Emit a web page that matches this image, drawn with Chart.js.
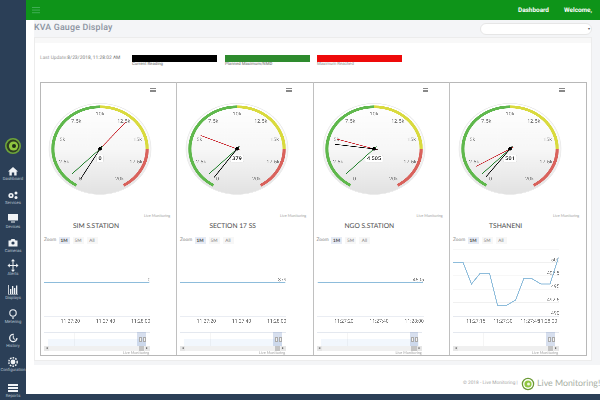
<!DOCTYPE html>
<html><head><meta charset="utf-8">
<script src="https://cdn.jsdelivr.net/npm/chart.js@4"></script>
<style>
html,body{margin:0;padding:0;width:600px;height:400px;overflow:hidden;background:#fff;font-family:Roboto,"Open Sans",sans-serif}
#root{position:absolute;left:0;top:0;width:600px;height:400px;overflow:hidden;background:#fff;filter:blur(.35px);text-rendering:geometricPrecision}
.a{position:absolute}
.t{position:absolute;white-space:nowrap}
.navt{position:absolute;left:0;width:26px;text-align:center;color:#b9c4d0;font-size:4.2px;line-height:5px}
.zb{position:absolute;top:237px;height:7px;width:11px;line-height:7px;text-align:center;font-size:4.6px;color:#777;font-family:Lato,sans-serif}
canvas{position:absolute;display:block}
.bar{position:absolute;background:#888;height:.8px;width:5.6px}
</style></head><body><div id="root">
<div class="a" style="left:26px;top:20px;width:574px;height:345px;background:#f4f5f7"></div>
<div class="a" style="left:26px;top:20px;width:8px;height:345px;background:#fff"></div>
<div class="a" style="left:34px;top:37px;width:558px;height:324px;background:#fff;border:1px solid #ececec;box-sizing:border-box"></div>
<div class="a" style="left:35px;top:38px;width:556px;height:5px;background:#f8f8f8"></div>
<div class="a" style="left:0;top:0;width:600px;height:20px;background:#0e9419"></div>
<div class="a" style="left:0;top:0;width:26px;height:400px;background:#2b3f57"></div>
<div class="a" style="left:0;top:394px;width:600px;height:6px;background:#2b3f57"></div>
<div class="a" style="left:32px;top:7px;width:8px;height:1.2px;background:#3fae55;box-shadow:0 2.6px #3fae55,0 5.2px #3fae55"></div>
<div class="t" style="left:518px;top:5px;font-size:6.4px;line-height:10px;font-weight:700;color:#fff;">Dashboard</div>
<div class="t" style="left:564px;top:5px;font-size:6.4px;line-height:10px;font-weight:700;color:#fff;">Welcome,</div>
<div class="t" style="left:34px;top:22px;font-size:8.800px;line-height:12px;font-weight:500;color:#8b93a0;letter-spacing:.2px">KVA Gauge Display</div>
<div class="a" style="left:480px;top:23px;width:112px;height:12px;background:#fff;border:1px solid #e6e6e6;border-radius:6px;box-sizing:border-box"></div>
<div class="t" style="left:588px;top:27px;font-size:4px;line-height:4px;color:#555">▾</div>
<div class="t" style="left:40px;top:55px;font-size:4.900px;line-height:6px;color:#999">Last Update:<span style="color:#777">8/23/2018, 11:28:02 AM</span></div>
<div class="a" style="left:132px;top:55px;width:85px;height:6.5px;background:#000"></div>
<div class="a" style="left:225px;top:55px;width:84.5px;height:6.5px;background:#2e8b2e"></div>
<div class="a" style="left:317px;top:55px;width:84.5px;height:6.5px;background:#ee0a0a"></div>
<div class="t" style="left:132px;top:62px;font-size:4.300px;line-height:5px;font-weight:500;color:#888">Current Reading</div>
<div class="t" style="left:225px;top:62px;font-size:4.300px;line-height:5px;font-weight:500;color:#888">Planned Maximum/NMD</div>
<div class="t" style="left:317px;top:62px;font-size:4.300px;line-height:5px;color:#888">Maximum Reached</div>
<div class="a" style="left:39.5px;top:82px;width:547px;height:273.5px;border:1px solid #b8b8b8;box-sizing:border-box"></div>
<div class="a" style="left:176px;top:82px;width:1px;height:273px;background:#c0c0c0"></div>
<div class="a" style="left:312.5px;top:82px;width:1px;height:273px;background:#c0c0c0"></div>
<div class="a" style="left:449px;top:82px;width:1px;height:273px;background:#c0c0c0"></div>

<svg class="a" style="left:0;top:130px" width="26" height="265" viewBox="0 0 26 265">
 <circle cx="13" cy="16" r="7.2" fill="#2e3d22" stroke="#6ea53a" stroke-width="1.6"/>
 <circle cx="13.5" cy="16" r="4.6" fill="#8fc63f"/><circle cx="14" cy="16" r="2" fill="#1d2c18"/>
 <g fill="#f0f3f6">
  <path d="M13 37l5 4.5h-1.4v4h-2.4v-3h-2.4v3h-2.4v-4H8z"/>
  <circle cx="11" cy="65.5" r="2.6"/><circle cx="16" cy="63" r="1.5"/><circle cx="16" cy="67.5" r="1.5"/>
  <path d="M8 84h10v6.5H8zM11 91.5h4v1h-4z"/>
  <path d="M8.500 110.500h2l1-1.500h3l1 1.500h2v6h-9z"/>
  <path d="M12.500 131h1v9h-1zM9 135h8v1H9z"/><path d="M13 129l2 2.300h-4zM13 142l2-2.300h-4zM7.500 135.500l2.300-2v4zM18.500 135.500l-2.300-2v4z"/>
  <path d="M8 155h.8v9H8zM10 159h1.300v5H10zM12 156h1.300v8H12zM14 158h1.300v6H14zM16 155.500h1.300v8.500H16zM8 164h10v.6H8z"/>
  <path d="M12.400 187h1.200v2h-1.200z"/>
  <circle cx="13" cy="232" r="2.400"/>
  <path d="M8 254h10v2H8zM8 257h10v2H8zM8 260h10v2H8z"/>
 </g>
 <circle cx="13" cy="183" r="3.200" fill="none" stroke="#f0f3f6" stroke-width="1.100"/>
 <circle cx="13.300" cy="208" r="3.600" fill="none" stroke="#f0f3f6" stroke-width="1.300" stroke-dasharray="17 6"/>
 <path d="M13.300 205.500v3l2 1" fill="none" stroke="#f0f3f6" stroke-width="1"/>
 <circle cx="13" cy="232" r="4.200" fill="none" stroke="#f0f3f6" stroke-width="1.500" stroke-dasharray="1.600 1.100"/>
 <circle cx="11" cy="65.500" r="1" fill="#2b3f57"/>
 <circle cx="13" cy="113" r="1.600" fill="#2b3f57"/>
</svg>
<div class="navt" style="top:177px">Dashboard</div>
<div class="navt" style="top:200.500px">Services</div>
<div class="navt" style="top:224.500px">Devices</div>
<div class="navt" style="top:248.500px">Cameras</div>
<div class="navt" style="top:272px">Alerts</div>
<div class="navt" style="top:296px">Displays</div>
<div class="navt" style="top:319.500px">Metering</div>
<div class="navt" style="top:343.500px">History</div>
<div class="navt" style="top:367.500px">Configuration</div>
<div class="navt" style="top:394px">Reports</div>

<div class="t" style="left:463px;top:381px;font-size:4.800px;line-height:6px;color:#a5a5a5">© 2018 - Live Monitoring |</div>
<svg class="a" style="left:521px;top:377px" width="14" height="14"><circle cx="7" cy="7" r="5.600" fill="#fff" stroke="#6b9a35" stroke-width="1.300"/><circle cx="7" cy="7" r="3.600" fill="#8fc63f"/><circle cx="7.500" cy="7" r="1.500" fill="#eef5e0"/></svg>
<div class="t" style="left:537px;top:377px;font-size:8.800px;line-height:12px;color:#a9b0a5;font-family:Lato,sans-serif">Live Monitoring!</div>
<div id="panels"></div>
</div>
<script>
const stationNames = ['SIM S.STATION', 'SECTION 17 SS', 'NGO S.STATION', 'TSHANENI'];
const currentReadings = [0, 379, 4505, 501];
const plannedMaximum = [1000, 1000, 1000, 1000];
const maximumReached = [12700, 5500, 5100, 2000];
const bandValues = [10000, 6000, 4000];
const bandColors = ['#5fb84c', '#d9da3e', '#d9625c'];
const gaugeTickSteps = [2500, 2500, 2500, 2500, 2500, 2500, 2500, 2500];
const gaugeTickLabels = ['0', '2.5k', '5k', '7.5k', '10k', '12.5k', '15k', '17.5k', '20k'];
const needleColors = ['#000000', '#1b7d27', '#c8222a'];

// seconds after 11:27:00
const flatTimes = [5, 10, 15, 20, 25, 30, 35, 40, 45, 50, 55, 60, 65];
const simValues = [0, 0, 0, 0, 0, 0, 0, 0, 0, 0, 0, 0, 0];
const section17Values = [379, 379, 379, 379, 379, 379, 379, 379, 379, 379, 379, 379, 379];
const ngoValues = [4505, 4505, 4505, 4505, 4505, 4505, 4505, 4505, 4505, 4505, 4505, 4505, 4505];
const tshaneniTimes = [2.4, 8, 12.6, 17.4, 22.6, 27, 32, 37, 41.5, 46, 51, 56, 60.7];
const tshaneniValues = [500, 500, 496, 498, 498, 492, 492, 493, 497, 497, 496, 496, 501];
const flatTickSeconds = [20, 40, 60];
const tshaneniTickSeconds = [15, 30, 45, 60];
const tshaneniYTicks = [490, 492.5, 495, 497.5, 500, 502.5];

// navigator: minutes after 11:00
const navTimes = [10.25, 14, 18, 22, 26, 28.08];
const navTickMinutes = [15];
const navSim = [0, 0, 0, 0, 0, 0];
const navSection17 = [379, 379, 379, 379, 379, 379];
const navNgo = [4505, 4505, 4505, 4505, 4505, 4505];

const lineSets = [
  {times: flatTimes, values: simValues, nav: navSim},
  {times: flatTimes, values: section17Values, nav: navSection17},
  {times: flatTimes, values: ngoValues, nav: navNgo},
  {times: tshaneniTimes, values: tshaneniValues, nav: []}
];

const panelX = [40, 176, 312.5, 449];
const gaugeCx = [100.3, 237.3, 374, 510.3];
const titleCx = [96, 232.7, 369.3, 505.7];
const plotL = [4, 4, 4.5, 4];

const fmtClock2 = s => s >= 60 ? '11:28:' + String(s - 60).padStart(2, '0') : '11:27:' + String(s).padStart(2, '0');
const fmtValue = v => v >= 1000 ? String(v).replace(/(\d)(\d{3})$/, '$1 $2') : String(v);

Chart.register({id: 'crispText', beforeDraw(chart) { chart.ctx.textRendering = 'geometricPrecision'; }});

const gaugePlugin = {
  id: 'gaugeFace',
  beforeDatasetsDraw(chart) {
    const arc = chart.getDatasetMeta(0).data[0], c = chart.ctx, R = arc.outerRadius + 2;
    c.save();
    const g = c.createLinearGradient(0, arc.y - R, 0, arc.y + R);
    g.addColorStop(0, '#ffffff'); g.addColorStop(.5, '#f7f7f7'); g.addColorStop(1, '#e2e2e2');
    c.fillStyle = g; c.strokeStyle = '#ececec'; c.lineWidth = .8;
    c.beginPath(); c.arc(arc.x, arc.y, R, 0, Math.PI * 2); c.fill(); c.stroke();
    c.restore();
  },
  afterDatasetsDraw(chart, _a, opts) {
    const meta0 = chart.getDatasetMeta(0).data[0], c = chart.ctx, cx = meta0.x, cy = meta0.y, R = meta0.outerRadius;
    const tickArcs = chart.getDatasetMeta(1).data;
    c.save();
    c.textRendering = 'geometricPrecision';
    c.font = '4.8px Roboto, sans-serif'; c.fillStyle = '#777'; c.textAlign = 'center'; c.textBaseline = 'middle';
    gaugeTickLabels.forEach((lab, i) => {
      const a = i < tickArcs.length ? tickArcs[i].startAngle : tickArcs[i - 1].endAngle;
      c.fillText(lab, cx + Math.cos(a) * R * .8, cy + Math.sin(a) * R * .8);
    });
    const txt = fmtValue(opts.value);
    c.font = 'bold 5px Roboto, sans-serif';
    const w = c.measureText(txt).width + 3.5, by = cy + 9.7;
    c.fillStyle = '#fff'; c.strokeStyle = '#ddd'; c.lineWidth = .4;
    c.beginPath(); c.roundRect(cx - w / 2, by - 3.6, w, 7.2, 1.5); c.fill(); c.stroke();
    c.fillStyle = '#444'; c.fillText(txt, cx, by + .2);
    c.lineCap = 'round';
    [4, 3, 2].forEach(ds => {
      const a = chart.getDatasetMeta(ds).data[0].endAngle;
      c.strokeStyle = needleColors[ds - 2]; c.lineWidth = .7;
      c.beginPath();
      c.moveTo(cx - Math.cos(a) * 3, cy - Math.sin(a) * 3);
      c.lineTo(cx + Math.cos(a) * R * .8, cy + Math.sin(a) * R * .8);
      c.stroke();
    });
    c.fillStyle = '#000'; c.beginPath(); c.arc(cx, cy, 1.7, 0, Math.PI * 2); c.fill();
    c.restore();
  }
};

const panels = document.getElementById('panels');
function el(css, cls, txt) { const d = document.createElement('div'); d.style.cssText = css; d.className = cls || 'a'; if (txt) d.textContent = txt; panels.appendChild(d); return d; }
function canvas(l, t, w, h, extra) { const c = document.createElement('canvas'); c.width = w; c.height = h; c.style.cssText = `left:${l}px;top:${t}px;${extra || ''}`; panels.appendChild(c); return c; }

const base = {responsive: false, animation: false, events: [], devicePixelRatio: 3};

stationNames.forEach((name, i) => {
  const px = panelX[i];
  [88.3, 90, 91.7].forEach(y => { el(`left:${px + 110}px;top:${y - .4}px`, 'bar'); });
  const gc = canvas(gaugeCx[i] - 55, 91.4, 110, 110, 'transform:scaleX(1.12);transform-origin:50% 50%');
  new Chart(gc, {
    type: 'doughnut',
    plugins: [gaugePlugin],
    data: {datasets: [
      {data: bandValues, backgroundColor: bandColors, borderWidth: 0},
      {data: gaugeTickSteps, backgroundColor: 'transparent', borderWidth: 0, weight: 0},
      {data: [currentReadings[i], 20000 - currentReadings[i]], backgroundColor: 'transparent', borderWidth: 0, weight: 0},
      {data: [plannedMaximum[i], 20000 - plannedMaximum[i]], backgroundColor: 'transparent', borderWidth: 0, weight: 0},
      {data: [maximumReached[i], 20000 - maximumReached[i]], backgroundColor: 'transparent', borderWidth: 0, weight: 0}
    ]},
    options: {...base, rotation: -150, circumference: 300, radius: 43.5, cutout: '93.5%',
      layout: {padding: 0},
      plugins: {legend: {display: false}, tooltip: {enabled: false}, gaugeFace: {value: currentReadings[i]}}}
  });
  el(`left:${px + 104}px;top:212.500px;font-size:3.800px;line-height:5px;color:#a0a0a0;font-family:Lato,sans-serif`, 't', 'Live Monitoring');
  el(`left:${titleCx[i] - 40}px;width:80px;text-align:center;top:221.500px;font-size:6.700px;line-height:9px;color:#4a4a4a;font-family:Lato,sans-serif`, 't', name);
  el(`left:${px + 4}px;top:237px;font-size:4.800px;line-height:7px;color:#888;font-family:Lato,sans-serif`, 't', 'Zoom');
  el(`left:${px + 18.500}px;background:#e6ebf5;font-weight:700;color:#444`, 'zb', '1M');
  el(`left:${px + 32.500}px;background:#f7f7f7`, 'zb', '5M');
  el(`left:${px + 46.500}px;background:#f7f7f7`, 'zb', 'All');

  const set = lineSets[i], flat = i < 3, v0 = set.values[0];
  const lc = canvas(px, 245, 136, 88);
  const L = plotL[i];
  new Chart(lc, {
    type: 'line',
    data: {datasets: [{data: set.times.map((t, k) => ({x: t, y: set.values[k]})), borderColor: '#8dbcdb', borderWidth: 1, pointRadius: 0, tension: 0, fill: false}]},
    options: {...base, layout: {padding: {left: L, right: 136 - L - 105.500, top: 4.300, bottom: 5}},
      plugins: {legend: {display: false}, tooltip: {enabled: false}},
      scales: {
        x: {type: 'linear', min: flat ? 5 : 2.4, max: flat ? 65 : 60.7,
          afterBuildTicks: s => { const v = flat ? flatTickSeconds : tshaneniTickSeconds; s.ticks = (flat ? v : [s.min].concat(v)).map(value => ({value})); },
          afterFit: s => { s.height = 12; },
          grid: {display: false, drawTicks: false}, border: {color: '#d5dce8', width: .7},
          ticks: {autoSkip: false, maxRotation: 0, padding: 2.500, align: flat ? 'center' : 'inner', color: '#7a7a7a', font: {size: 5, family: 'Roboto'},
            callback: v => (v === 2.4 ? '' : fmtClock2(v))}},
        y: {type: 'linear', position: 'right', min: flat ? v0 - 1 : 490, max: flat ? v0 + 1 : 502.5,
          afterBuildTicks: s => { s.ticks = (flat ? [v0] : tshaneniYTicks).map(value => ({value})); },
          afterFit: s => { s.width = 0; },
          grid: {color: flat ? 'transparent' : '#f0f0f0', lineWidth: .6, drawTicks: false}, border: {display: false},
          ticks: {mirror: true, padding: 1, labelOffset: -2.500, color: '#7a7a7a', font: {size: 5, family: 'Roboto'},
            callback: v => (v === 502.5 ? '' : String(v))}}
      }}
  });

  const nc = canvas(px, 331, 136, 15);
  const nav = set.nav, nv = nav.length ? nav[0] : 0;
  new Chart(nc, {
    type: 'line',
    data: {datasets: [{data: nav.map((v, k) => ({x: navTimes[k], y: v})), borderColor: '#b5d2e8', backgroundColor: 'rgba(124,181,236,.10)', borderWidth: .7, pointRadius: 0, fill: 'start'}]},
    options: {...base, layout: {padding: {left: 8.300, right: 136 - 8.300 - 97.700, top: 1, bottom: 0}},
      plugins: {legend: {display: false}, tooltip: {enabled: false}},
      scales: {
        x: {type: 'linear', min: 10.25, max: 28.08,
          afterBuildTicks: s => { s.ticks = navTickMinutes.map(value => ({value})); },
          afterFit: s => { s.height = 0; },
          grid: {color: '#e6e6e6', lineWidth: .6, drawTicks: false}, border: {display: false},
          ticks: {autoSkip: false, maxRotation: 0, padding: -7, labelOffset: 7, color: '#aaa', font: {size: 4.500, family: 'Roboto'},
            callback: v => '11:' + v}},
        y: {display: false, min: nv - 1, max: nv + 1}
      }}
  });
  el(`left:${px + 4}px;top:332px;width:105.500px;height:.6px;background:#e4e8ef`);
  el(`left:${px + 97.300}px;top:332px;width:8.700px;height:13.500px;background:rgba(110,140,195,.28)`);
  el(`left:${px + 98.500}px;top:336.500px;width:3px;height:5.500px;background:#f2f2f2;border:.4px solid #aaa;box-sizing:border-box`);
  el(`left:${px + 102.800}px;top:336.500px;width:3px;height:5.500px;background:#f2f2f2;border:.4px solid #aaa;box-sizing:border-box`);
  el(`left:${px + 4}px;top:345.500px;width:105.500px;height:5px;background:#f0f0f0`);
  el(`left:${px + 4}px;top:345.500px;width:5px;height:5px;background:#e6e6e6`);
  el(`left:${px + 104.500}px;top:345.500px;width:5px;height:5px;background:#e6e6e6`);
  el(`left:${px + 98.700}px;top:345.500px;width:5.500px;height:5px;background:#c4c4c4`);
  el(`left:${px + 6}px;top:346.500px;font-size:3.500px;line-height:3.500px;color:#444`, 't', '◂');
  el(`left:${px + 106}px;top:346.500px;font-size:3.500px;line-height:3.500px;color:#444`, 't', '▸');
  el(`left:${px + 83}px;top:351px;font-size:3.800px;line-height:4.500px;color:#a0a0a0;font-family:Lato,sans-serif`, 't', 'Live Monitoring');
});
</script></body></html>
